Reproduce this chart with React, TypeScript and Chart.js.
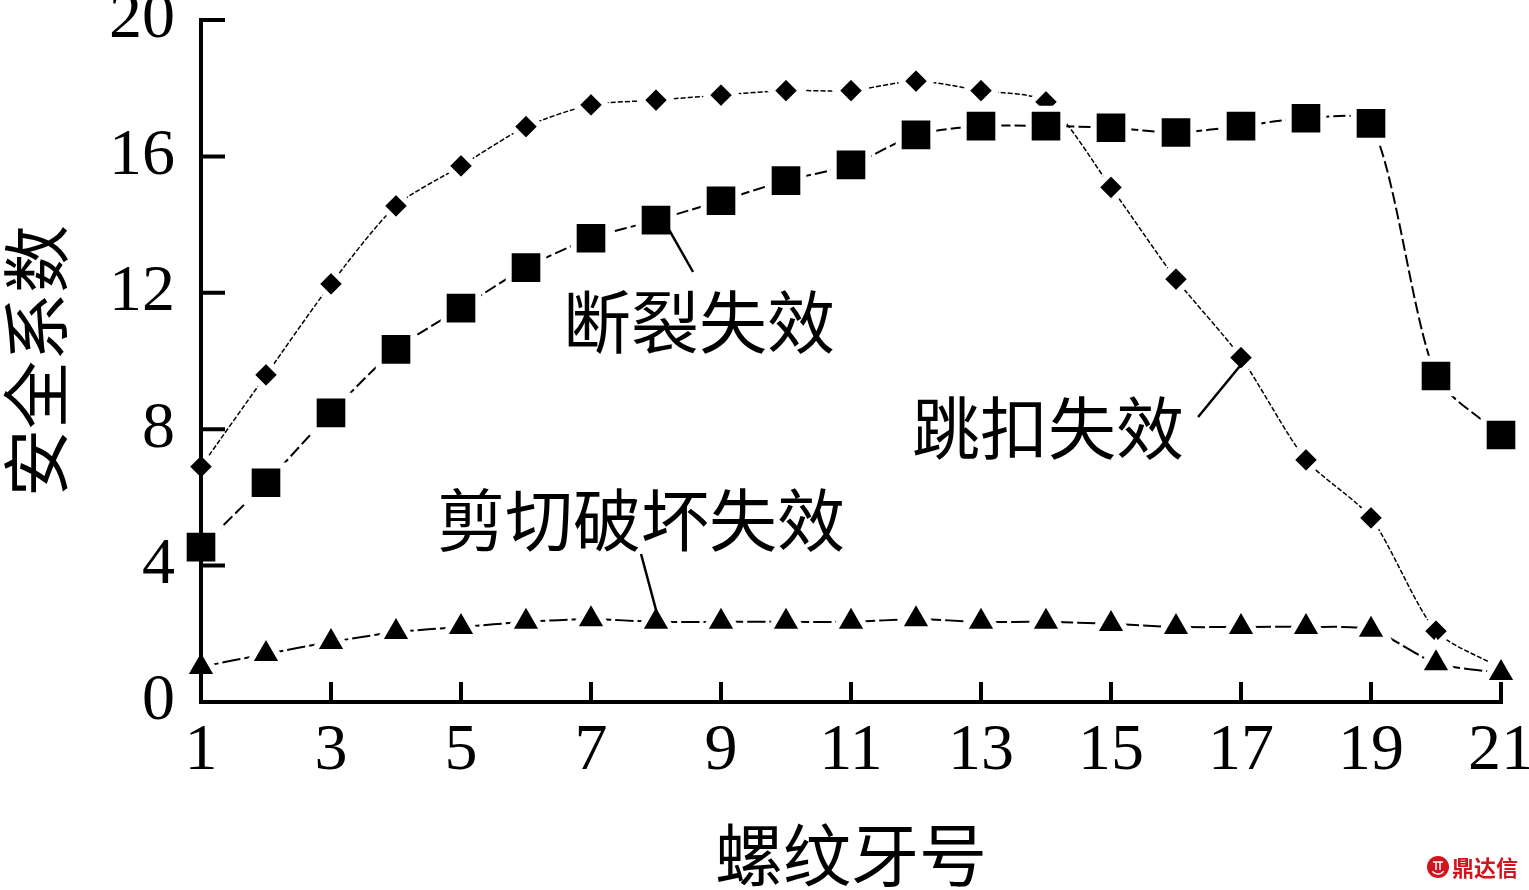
import React, { useEffect, useRef } from 'react';
import { Chart, registerables } from 'chart.js';

Chart.register(...registerables);

// ---- data ----
const threadNumbers = [1, 2, 3, 4, 5, 6, 7, 8, 9, 10, 11, 12, 13, 14, 15, 16, 17, 18, 19, 20, 21];
const fractureFailure = [4.54, 6.43, 8.48, 10.34, 11.55, 12.74, 13.6, 14.13, 14.7, 15.29, 15.75, 16.63, 16.89, 16.89, 16.84, 16.7, 16.89, 17.12, 16.97, 9.56, 7.83];
const jumpFailure = [6.9, 9.59, 12.26, 14.55, 15.72, 16.87, 17.51, 17.65, 17.8, 17.93, 17.93, 18.21, 17.93, 17.6, 15.09, 12.4, 10.1, 7.1, 5.4, 2.08, 1.0];
const shearFailure = [1.03, 1.41, 1.76, 2.05, 2.2, 2.35, 2.43, 2.35, 2.35, 2.35, 2.35, 2.43, 2.35, 2.35, 2.29, 2.2, 2.2, 2.2, 2.12, 1.14, 0.85];
const xTickValues = [1, 3, 5, 7, 9, 11, 13, 15, 17, 19, 21];
const yTickValues = [0, 4, 8, 12, 16, 20];

const xTitle = '螺纹牙号';
const yTitle = '安全系数';

// callout labels (in data coordinates) with leader lines
const callouts = [
  { text: '断裂失效', at: [8.66, 11.14], from: [8.2, 13.85], to: [8.57, 12.61] },
  { text: '跳扣失效', at: [14.03, 8.04], from: [16.34, 8.36], to: [17.06, 10.03] },
  { text: '剪切破坏失效', at: [7.77, 5.34], from: [7.77, 4.34], to: [8.03, 2.49] },
];

const serif = '"Liberation Serif", "Times New Roman", serif';
const cjk = '"Noto Sans CJK SC", sans-serif';

const decorPlugin = {
  id: 'decor',
  afterDatasetsDraw(chart: any) {
    const { ctx, chartArea, scales } = chart;
    const xs = scales.x;
    const ys = scales.y;
    const { left, right, top, bottom } = chartArea;
    ctx.save();
    ctx.strokeStyle = '#000';
    ctx.lineCap = 'butt';
    // axis lines
    ctx.lineWidth = 4;
    ctx.beginPath();
    ctx.moveTo(left, top - 2);
    ctx.lineTo(left, bottom + 2);
    ctx.moveTo(left - 2, bottom);
    ctx.lineTo(right + 2, bottom);
    // inward ticks
    yTickValues.forEach((v) => {
      const py = ys.getPixelForValue(v);
      ctx.moveTo(left, py);
      ctx.lineTo(left + 24, py);
    });
    xTickValues.forEach((v) => {
      const px = xs.getPixelForValue(v);
      ctx.moveTo(px, bottom);
      ctx.lineTo(px, bottom - 20);
    });
    ctx.stroke();

    // callouts
    ctx.lineWidth = 2.5;
    ctx.fillStyle = '#000';
    ctx.font = `68px ${cjk}`;
    ctx.textAlign = 'center';
    ctx.textBaseline = 'middle';
    callouts.forEach((c) => {
      ctx.beginPath();
      ctx.moveTo(xs.getPixelForValue(c.from[0]), ys.getPixelForValue(c.from[1]));
      ctx.lineTo(xs.getPixelForValue(c.to[0]), ys.getPixelForValue(c.to[1]));
      ctx.stroke();
      ctx.fillText(c.text, xs.getPixelForValue(c.at[0]), ys.getPixelForValue(c.at[1]));
    });

    // watermark
    const red = '#d2141e';
    ctx.fillStyle = red;
    ctx.beginPath();
    ctx.arc(1438, 867, 11, 0, Math.PI * 2);
    ctx.fill();
    ctx.strokeStyle = '#fff';
    ctx.lineWidth = 1.5;
    ctx.beginPath();
    ctx.arc(1438, 867, 7, 0.2 * Math.PI, 0.8 * Math.PI);
    ctx.moveTo(1433, 862);
    ctx.lineTo(1443, 862);
    ctx.moveTo(1436, 862);
    ctx.lineTo(1436, 870);
    ctx.moveTo(1440, 862);
    ctx.lineTo(1440, 870);
    ctx.stroke();
    ctx.fillStyle = red;
    ctx.font = `bold 22px ${cjk}`;
    ctx.textAlign = 'left';
    ctx.fillText('鼎达信', 1452, 868);
    ctx.restore();
  },
};

function fitAxis(size: number, horizontal: boolean) {
  return (s: any) => {
    if (horizontal) s.height = size;
    else s.width = size;
    s.paddingLeft = 0;
    s.paddingRight = 0;
    s.paddingTop = 0;
    s.paddingBottom = 0;
  };
}

export default function App() {
  const ref = useRef<HTMLCanvasElement | null>(null);

  useEffect(() => {
    if (!ref.current) return;
    const toPts = (arr: number[]) => threadNumbers.map((x, i) => ({ x, y: arr[i] }));
    const chart = new Chart(ref.current, {
      type: 'line',
      data: {
        datasets: [
          {
            label: '断裂失效',
            data: toPts(fractureFailure),
            borderColor: '#000',
            borderWidth: 2,
            borderDash: [12, 4],
            tension: 0.25,
            pointStyle: 'rect',
            pointRadius: 24.5,
            pointBackgroundColor: '#000',
            pointBorderColor: '#fff',
            pointBorderWidth: 6,
            fill: false,
            clip: false,
          },
          {
            label: '剪切破坏失效',
            data: toPts(shearFailure),
            borderColor: '#000',
            borderWidth: 2,
            borderDash: [18, 4],
            tension: 0.25,
            pointStyle: 'triangle',
            pointRadius: 20,
            pointBackgroundColor: '#000',
            pointBorderColor: '#fff',
            pointBorderWidth: 6,
            fill: false,
            clip: false,
          },
          {
            label: '跳扣失效',
            data: toPts(jumpFailure),
            borderColor: '#000',
            borderWidth: 1.5,
            borderDash: [5, 2],
            tension: 0.25,
            pointStyle: 'rectRot',
            pointRadius: 15,
            pointBackgroundColor: '#000',
            pointBorderColor: '#fff',
            pointBorderWidth: 6,
            fill: false,
            clip: false,
          },
        ],
      },
      options: {
        animation: false,
        responsive: false,
        events: [],
        layout: { autoPadding: false, padding: { top: 20, right: 28, left: 0, bottom: 0 } },
        plugins: { legend: { display: false }, tooltip: { enabled: false } },
        scales: {
          x: {
            type: 'linear',
            min: 1,
            max: 21,
            afterBuildTicks: (s: any) => {
              s.ticks = xTickValues.map((v) => ({ value: v }));
            },
            afterFit: fitAxis(188, true),
            grid: { display: true, drawOnChartArea: false, drawTicks: false, color: 'rgba(0,0,0,0)' },
            border: { display: true, color: '#000', width: 4 },
            ticks: {
              color: '#000',
              padding: 10,
              maxRotation: 0,
              autoSkip: false,
              font: { family: serif, size: 66 },
            },
            title: {
              display: true,
              text: xTitle,
              color: '#000',
              font: { family: cjk, size: 68, lineHeight: 1 },
              padding: { top: 0, bottom: 1 },
            },
          },
          y: {
            type: 'linear',
            min: 0,
            max: 20,
            afterBuildTicks: (s: any) => {
              s.ticks = yTickValues.map((v) => ({ value: v }));
            },
            afterFit: fitAxis(201, false),
            grid: { display: true, drawOnChartArea: false, drawTicks: false, color: 'rgba(0,0,0,0)' },
            border: { display: true, color: '#000', width: 4 },
            ticks: {
              color: '#000',
              padding: 26,
              autoSkip: false,
              font: { family: serif, size: 66 },
            },
            title: {
              display: true,
              text: yTitle,
              color: '#000',
              font: { family: cjk, size: 68, lineHeight: 1 },
              padding: { top: 2, bottom: 0 },
            },
          },
        },
      },
      plugins: [decorPlugin],
    } as any);
    return () => chart.destroy();
  }, []);

  return (
    <div style={{ position: 'fixed', left: 0, top: 0, width: 1529, height: 890, background: '#fff' }}>
      <canvas ref={ref} width={1529} height={890} style={{ display: 'block', width: 1529, height: 890 }} />
    </div>
  );
}
